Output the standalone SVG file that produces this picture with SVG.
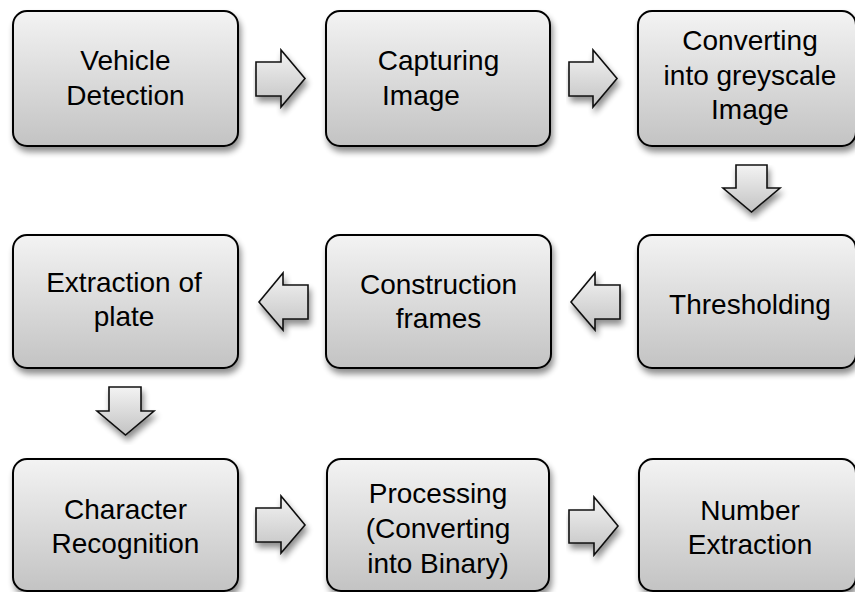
<svg xmlns="http://www.w3.org/2000/svg" width="855" height="592" viewBox="0 0 855 592">
<defs>
<linearGradient id="g" x1="0" y1="0" x2="0" y2="1">
<stop offset="0" stop-color="#f3f3f3"/>
<stop offset="1" stop-color="#c3c3c3"/>
</linearGradient>
<filter id="sh" x="-10%" y="-10%" width="130%" height="130%">
<feGaussianBlur in="SourceAlpha" stdDeviation="3"/>
<feOffset dx="2" dy="5" result="b"/>
<feComponentTransfer><feFuncA type="linear" slope="0.45"/></feComponentTransfer>
<feMerge><feMergeNode/><feMergeNode in="SourceGraphic"/></feMerge>
</filter>
<style>
.box{fill:url(#g);stroke:#000;stroke-width:2;filter:url(#sh)}
.arr{fill:url(#g);stroke:#111;stroke-width:1.6;stroke-linejoin:miter;filter:url(#sh)}
text{font-family:"Liberation Sans",Arial,sans-serif;font-size:28px;fill:#000;text-anchor:middle}
</style>
</defs>
<rect width="855" height="592" fill="#fff"/>
<g id="connectors">
<path class="arr" d="M256,62 H281 V50 L305,78.5 L281,107 V96 H256 Z"/>
<path class="arr" d="M569,62 H593 V50 L617,78.5 L593,107 V96 H569 Z"/>
<path class="arr" d="M736,165 H767 V188 H780 L751.5,212 L723,188 H736 Z"/>
<path class="arr" d="M620,285 H595 V273 L571,302 L595,330 V319 H620 Z"/>
<path class="arr" d="M308,285 H283 V273 L259,302 L283,330 V319 H308 Z"/>
<path class="arr" d="M109,387 H141 V411 H154 L125.5,435 L97,411 H109 Z"/>
<path class="arr" d="M256,508 H281 V496 L305,525 L281,553 V542 H256 Z"/>
<path class="arr" d="M569,510 H594 V497 L618,526 L594,555 V543 H569 Z"/>
</g>
<g id="n1"><rect class="box" x="13" y="11" width="225" height="135" rx="14"/><text x="125.5" y="70">Vehicle</text><text x="125.5" y="105">Detection</text></g>
<g id="n2"><rect class="box" x="326" y="11" width="224" height="135" rx="14"/><text x="438.5" y="70">Capturing</text><text x="421" y="105">Image</text></g>
<g id="n3"><rect class="box" x="638" y="11" width="218" height="135" rx="14"/><text x="750" y="50">Converting</text><text x="750" y="85">into greyscale</text><text x="750" y="119">Image</text></g>
<g id="n4"><rect class="box" x="638" y="235" width="218" height="133" rx="14"/><text x="750" y="314">Thresholding</text></g>
<g id="n5"><rect class="box" x="326" y="235" width="225" height="133" rx="14"/><text x="438.5" y="294">Construction</text><text x="438.5" y="328">frames</text></g>
<g id="n6"><rect class="box" x="13" y="235" width="225" height="133" rx="14"/><text x="124" y="292">Extraction of</text><text x="124" y="326">plate</text></g>
<g id="n7"><rect class="box" x="13" y="459" width="225" height="132" rx="14"/><text x="125.5" y="519">Character</text><text x="125.5" y="553">Recognition</text></g>
<g id="n8"><rect class="box" x="327" y="459" width="222" height="132" rx="14"/><text x="438" y="503">Processing</text><text x="438" y="538">(Converting</text><text x="438" y="573">into Binary)</text></g>
<g id="n9"><rect class="box" x="639" y="459" width="217" height="132" rx="14"/><text x="750" y="520">Number</text><text x="750" y="554">Extraction</text></g>
</svg>
